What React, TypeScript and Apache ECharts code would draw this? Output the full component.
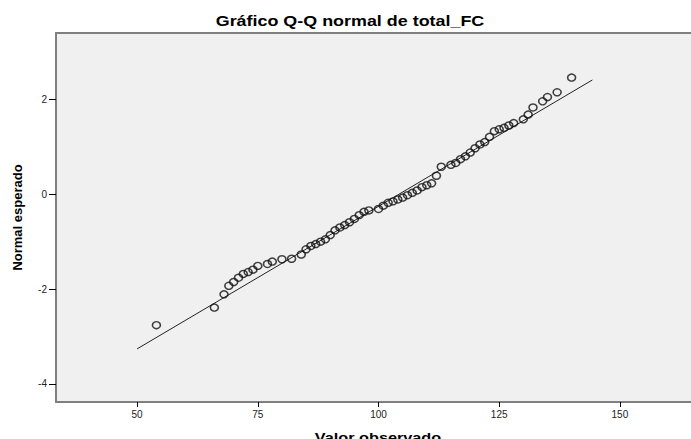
import React, { useEffect, useRef } from "react";
import * as echarts from "echarts";

// Observed values of total_FC (one entry per distinct value)
const observed = [
  54, 66, 68, 69, 70, 71, 72, 73, 74, 75, 77, 78, 80, 82, 84,
  85, 86, 87, 88, 89, 90, 91, 92, 93, 94, 95, 96, 97, 98, 100,
  101, 102, 103, 104, 105, 106, 107, 108, 109, 110, 111, 112, 113, 115, 116,
  117, 118, 119, 120, 121, 122, 123, 124, 125, 126, 127, 128, 130, 131, 132,
  134, 135, 137, 140,
];

// Expected normal scores for each observed value
const expectedNormal = [
  -2.76, -2.39, -2.11, -1.93, -1.85, -1.76, -1.68, -1.64, -1.59, -1.51, -1.47, -1.42, -1.37, -1.36, -1.27,
  -1.16, -1.09, -1.05, -1.0, -0.95, -0.86, -0.76, -0.7, -0.65, -0.59, -0.52, -0.44, -0.37, -0.34, -0.31,
  -0.24, -0.18, -0.15, -0.11, -0.07, -0.02, 0.03, 0.08, 0.15, 0.19, 0.23, 0.39, 0.58, 0.62, 0.66,
  0.74, 0.8, 0.88, 0.97, 1.05, 1.1, 1.21, 1.33, 1.37, 1.4, 1.45, 1.5, 1.58, 1.68, 1.83,
  1.96, 2.05, 2.15, 2.46,
];

// Reference line endpoints
const refLineX = [50, 144.3];
const refLineY = [-3.26, 2.41];

// Tick labels
const xTicks = [50, 75, 100, 125, 150];
const yTicks = [-4, -2, 0, 2];

const TITLE = "Gráfico Q-Q normal de total_FC";
const X_NAME = "Valor observado";
const Y_NAME = "Normal esperado";

const FONT = '"Liberation Sans", Arial, Helvetica, sans-serif';
const FRAME = "#7f7f7f";

export default function App() {
  const ref = useRef<HTMLDivElement>(null);

  useEffect(() => {
    if (!ref.current) return;
    document.documentElement.style.overflow = "hidden";
    document.body.style.overflow = "hidden";
    const chart = echarts.init(ref.current, null, { renderer: "svg" });

    const points = observed.map((v, i) => [v, expectedNormal[i]]);
    const line = refLineX.map((v, i) => [v, refLineY[i]]);

    chart.setOption({
      animation: false,
      backgroundColor: "#ffffff",
      textStyle: { fontFamily: FONT },
      grid: {
        left: 56,
        top: 33,
        right: -10,
        bottom: 37,
        outerBoundsMode: "none",
        containLabel: false,
        show: true,
        backgroundColor: "#f0f0f0",
        borderWidth: 0,
      },
      xAxis: [
        {
          type: "value",
          min: 33.2,
          max: 166.8,
          splitLine: { show: false },
          axisLine: { show: true, onZero: false, lineStyle: { color: FRAME, width: 2 } },
          axisTick: { show: true, length: 5, customValues: xTicks, lineStyle: { color: "#000", width: 1 } },
          axisLabel: {
            customValues: xTicks,
            color: "#222",
            fontSize: 10,
            fontFamily: FONT,
            margin: 7,
          },
        },
        {
          // top edge of the plot frame
          type: "value",
          position: "top",
          min: 33.2,
          max: 166.8,
          splitLine: { show: false },
          axisLine: { show: true, onZero: false, lineStyle: { color: FRAME, width: 2 } },
          axisTick: { show: false },
          axisLabel: { show: false },
        },
      ],
      yAxis: {
        type: "value",
        min: -4.38,
        max: 3.4,
        splitLine: { show: false },
        name: Y_NAME,
        nameLocation: "middle",
        nameGap: 32,
        nameTextStyle: { fontFamily: FONT, fontWeight: "bold", fontSize: 13, color: "#000" },
        axisLine: { show: true, onZero: false, lineStyle: { color: FRAME, width: 2 } },
        axisTick: { show: true, length: 7, customValues: yTicks, lineStyle: { color: "#000", width: 1 } },
        axisLabel: {
          customValues: yTicks,
          color: "#222",
          fontSize: 10,
          fontFamily: FONT,
          margin: 9,
        },
      },
      graphic: [
        {
          type: "text",
          x: 350,
          y: 21,
          scaleX: 1.28,
          style: {
            text: TITLE,
            font: `bold 14px ${FONT}`,
            fill: "#000",
            textAlign: "center",
            textVerticalAlign: "middle",
          },
        },
        {
          type: "text",
          x: 378,
          y: 438,
          scaleX: 1.25,
          style: {
            text: X_NAME,
            font: `bold 13px ${FONT}`,
            fill: "#000",
            textAlign: "center",
            textVerticalAlign: "middle",
          },
        },
      ],
      series: [
        {
          type: "line",
          data: line,
          symbol: "none",
          silent: true,
          lineStyle: { color: "#222", width: 1 },
          z: 2,
        },
        {
          type: "scatter",
          data: points,
          symbol: "circle",
          symbolSize: [8, 7],
          itemStyle: {
            color: "rgba(0,0,0,0)",
            borderColor: "#111",
            borderWidth: 1.5,
          },
          z: 3,
        },
      ],
    });

    return () => chart.dispose();
  }, []);

  return (
    <div
      ref={ref}
      style={{ position: "absolute", left: 0, top: 0, width: 691, height: 439, overflow: "hidden" }}
    />
  );
}
